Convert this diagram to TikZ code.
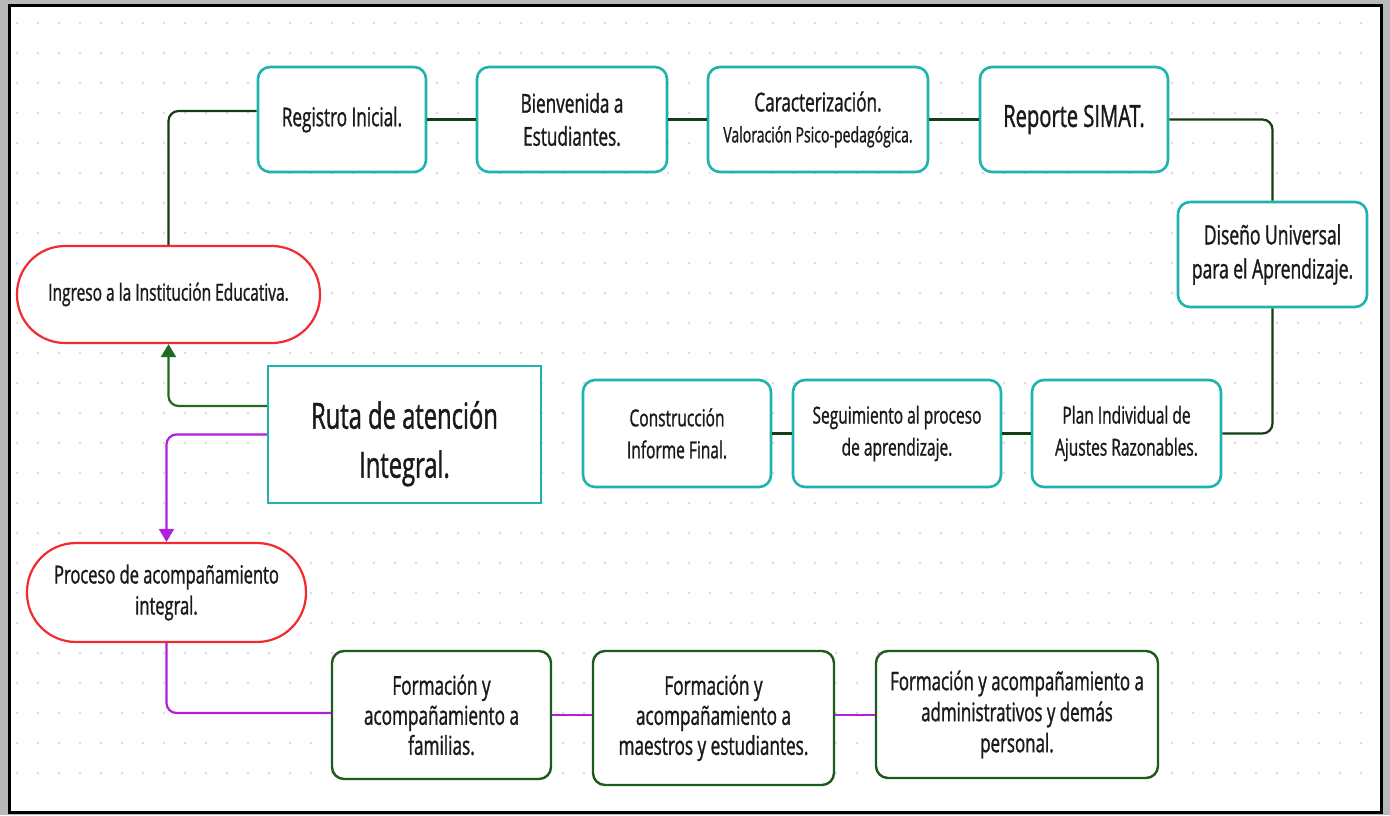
\documentclass[tikz,border=0pt]{standalone}
\usepackage{fontspec}
\setmainfont{Open Sans}[FakeStretch=0.66, FakeBold=1.1]
\usetikzlibrary{arrows.meta}
\definecolor{tealb}{HTML}{1DB3AE}
\definecolor{redb}{HTML}{F42A2E}
\definecolor{greenb}{HTML}{1D5A1D}
\definecolor{linec}{HTML}{133D13}
\definecolor{arrg}{HTML}{1F6B1F}
\definecolor{purp}{HTML}{B320DC}
\definecolor{txt}{HTML}{1A1A1A}
\definecolor{dotc}{HTML}{DADADA}
\tikzset{
  base/.style={fill=white, align=center, text=txt, inner sep=2pt},
  tbox/.style={base, draw=tealb, line width=2.6pt, rounded corners=12pt},
  gbox/.style={base, draw=greenb, line width=2.4pt, rounded corners=12pt},
  rbox/.style={base, draw=redb, line width=2.2pt},
  sbox/.style={base, draw=tealb, line width=2.4pt},
  conn/.style={draw=linec, line width=2.2pt, rounded corners=10pt},
  pconn/.style={draw=purp, line width=2.2pt, rounded corners=10pt},
}
\begin{document}
\begin{tikzpicture}[x=1pt,y=-1pt]
\useasboundingbox (0,0) rectangle (1390,815);
\fill[gray!55] (0,0) rectangle (1390,815);
\draw[black, line width=3pt, fill=white] (9,5) rectangle (1381,812);
\foreach \i in {0,...,64} {
  \foreach \j in {0,...,25} {
    \fill[dotc] ({17+21*\i},{23+30*\j}) circle (1.3pt);
  }
}
% top row
\node[tbox, minimum width=168pt, minimum height=105pt, font=\fontsize{26}{33}\selectfont] (reg) at (342,119.5) {Registro Inicial.};
\node[tbox, minimum width=190pt, minimum height=105pt, font=\fontsize{26}{33}\selectfont] (bien) at (572,119.5) {Bienvenida a\\Estudiantes.};
\node[tbox, minimum width=220pt, minimum height=105pt, font=\fontsize{26}{31}\selectfont] (car) at (818,119.5) {Caracterización.\\{\fontsize{21.3}{31}\selectfont Valoración Psico-pedagógica.}};
\node[tbox, minimum width=188pt, minimum height=105pt, font=\fontsize{30.5}{33}\selectfont] (rep) at (1074,119.5) {Reporte SIMAT.};
\node[tbox, minimum width=189pt, minimum height=105pt, font=\fontsize{26.5}{34}\selectfont] (dis) at (1272.5,254.5) {Diseño Universal\\para el Aprendizaje.};
% middle row
\node[tbox, minimum width=189pt, minimum height=107pt, font=\fontsize{23.5}{32}\selectfont] (plan) at (1126.5,433.5) {Plan Individual de\\Ajustes Razonables.};
\node[tbox, minimum width=208pt, minimum height=107pt, font=\fontsize{23.5}{32}\selectfont] (seg) at (897,433.5) {Seguimiento al proceso\\de aprendizaje.};
\node[tbox, minimum width=188pt, minimum height=107pt, font=\fontsize{23.5}{32}\selectfont] (con) at (677,433.5) {Construcción\\Informe Final.};
% center
\node[sbox, minimum width=273pt, minimum height=137pt, font=\fontsize{36}{49}\selectfont] (ruta) at (404.5,434.5) {\rule{0pt}{46pt}Ruta de atención\\Integral.};
\node[rbox, rounded corners=48pt, minimum width=303pt, minimum height=97pt, font=\fontsize{23.5}{30}\selectfont] (ing) at (168.5,294.5) {Ingreso a la Institución Educativa.};
\node[rbox, rounded corners=49pt, minimum width=279pt, minimum height=99pt, font=\fontsize{25}{31}\selectfont] (pro) at (166.5,592.5) {Proceso de acompañamiento\\integral.};
% bottom row
\node[gbox, minimum width=219pt, minimum height=128pt, font=\fontsize{26}{30}\selectfont] (ff) at (441.5,715) {Formación y\\acompañamiento a\\familias.};
\node[gbox, minimum width=241pt, minimum height=134pt, font=\fontsize{26}{30}\selectfont] (fm) at (713.5,718) {Formación y\\acompañamiento a\\maestros y estudiantes.};
\node[gbox, minimum width=282pt, minimum height=127pt, font=\fontsize{25.6}{31}\selectfont] (fa) at (1017,714.5) {Formación y acompañamiento a\\administrativos y demás\\personal.};
% connectors
\draw[conn] (ing.north) |- ([yshift=8.5pt]reg.west);
\draw[conn] (reg.east) -- (bien.west);
\draw[conn] (bien.east) -- (car.west);
\draw[conn] (car.east) -- (rep.west);
\draw[conn] (rep.east) -| (dis.north);
\draw[conn] (dis.south) |- (plan.east);
\draw[conn] (plan.west) -- (seg.east);
\draw[conn] (seg.west) -- (con.east);
\draw[conn, draw=arrg, -{Triangle[width=15pt,length=13pt]}] ([yshift=28.5pt]ruta.west) -| (ing.south);
\draw[pconn, -{Triangle[width=15pt,length=13pt]}] (ruta.west) -| (pro.north);
\draw[pconn] (pro.south) |- ([yshift=2pt]ff.west);
\draw[pconn] (ff.east) -- (fm.west |- ff.east);
\draw[pconn] (fm.east |- ff.east) -- (fa.west |- ff.east);
\end{tikzpicture}
\end{document}
